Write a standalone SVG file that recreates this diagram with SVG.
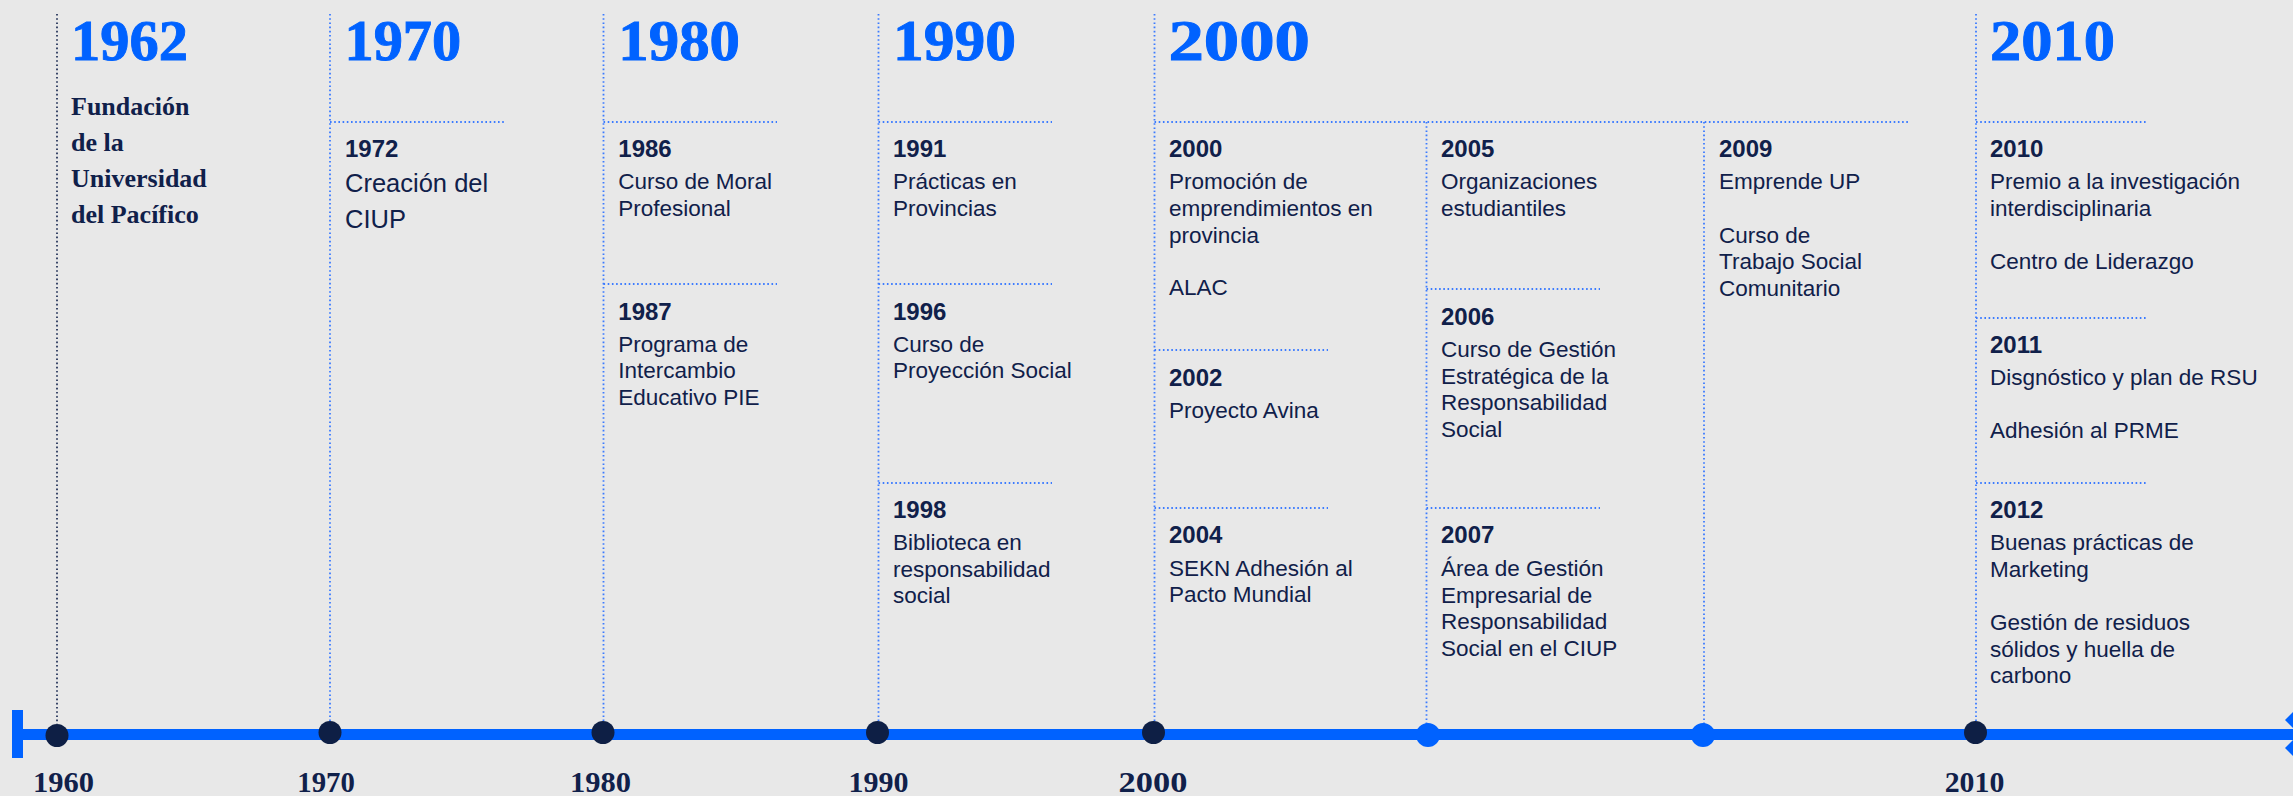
<svg xmlns="http://www.w3.org/2000/svg" width="2293" height="796" viewBox="0 0 2293 796">
<style>
.head{font-family:"Liberation Serif","Times New Roman",serif;font-weight:700;font-size:58px;fill:#0062ff;stroke:#0062ff;stroke-width:0.9}
.yr{font-family:"Liberation Sans",Arial,sans-serif;font-weight:700;font-size:24px;fill:#10204a}
.body{font-family:"Liberation Sans",Arial,sans-serif;font-size:22.5px;fill:#10204a}
.big{font-family:"Liberation Sans",Arial,sans-serif;font-size:25.5px;fill:#10204a}
.found{font-family:"Liberation Serif","Times New Roman",serif;font-weight:700;font-size:26px;fill:#10204a}
.axis{font-family:"Liberation Serif","Times New Roman",serif;font-weight:700;font-size:30px;fill:#10204a;text-anchor:middle}
.dl{stroke:#3b7bff;stroke-width:1.8;stroke-dasharray:1.6 2.6;fill:none}
.dd{stroke:#10204a;stroke-width:1.6;stroke-dasharray:1.6 2.6;fill:none}
.nd{fill:#0e1f45}
.nb{fill:#0062ff}
</style>
<rect x="0" y="0" width="2293" height="796" fill="#e8e8e8"/>

<g id="connectors">
  <line class="dd" x1="57" y1="14" x2="57" y2="724"/>
  <line class="dl" x1="330" y1="14" x2="330" y2="721"/>
  <line class="dl" x1="603.5" y1="14" x2="603.5" y2="721"/>
  <line class="dl" x1="878.5" y1="14" x2="878.5" y2="721"/>
  <line class="dl" x1="1154.5" y1="14" x2="1154.5" y2="721"/>
  <line class="dl" x1="1426.5" y1="122" x2="1426.5" y2="724"/>
  <line class="dl" x1="1704" y1="122" x2="1704" y2="724"/>
  <line class="dl" x1="1976" y1="14" x2="1976" y2="721"/>
  <line class="dl" x1="330" y1="122" x2="504" y2="122"/>
  <line class="dl" x1="603.5" y1="122" x2="777" y2="122"/>
  <line class="dl" x1="603.5" y1="284" x2="777" y2="284"/>
  <line class="dl" x1="878.5" y1="122" x2="1052" y2="122"/>
  <line class="dl" x1="878.5" y1="284" x2="1052" y2="284"/>
  <line class="dl" x1="878.5" y1="483" x2="1052" y2="483"/>
  <line class="dl" x1="1154.5" y1="122" x2="1909" y2="122"/>
  <line class="dl" x1="1154.5" y1="350" x2="1328" y2="350"/>
  <line class="dl" x1="1154.5" y1="508" x2="1328" y2="508"/>
  <line class="dl" x1="1426.5" y1="289" x2="1600" y2="289"/>
  <line class="dl" x1="1426.5" y1="508" x2="1600" y2="508"/>
  <line class="dl" x1="1976" y1="122" x2="2148" y2="122"/>
  <line class="dl" x1="1976" y1="318" x2="2148" y2="318"/>
  <line class="dl" x1="1976" y1="483" x2="2148" y2="483"/>
  <rect x="12" y="729" width="2281" height="11" fill="#0062ff"/>
  <rect x="12" y="710" width="11" height="48" fill="#0062ff"/>
  <polygon points="2285,720 2293,712 2301,720 2293,728" fill="#0062ff"/>
  <polygon points="2285,748 2293,740 2301,748 2293,756" fill="#0062ff"/>
</g>

<g id="tick-1960">
  <circle class="nd" cx="57" cy="735.5" r="11.5"/>
  <text class="axis" x="63.5" y="792" textLength="61" lengthAdjust="spacingAndGlyphs">1960</text>
</g>
<g id="tick-1970">
  <circle class="nd" cx="330" cy="732.5" r="11.5"/>
  <text class="axis" x="326" y="792" textLength="57.5" lengthAdjust="spacingAndGlyphs">1970</text>
</g>
<g id="tick-1980">
  <circle class="nd" cx="603" cy="732.5" r="11.5"/>
  <text class="axis" x="600.5" y="792" textLength="61" lengthAdjust="spacingAndGlyphs">1980</text>
</g>
<g id="tick-1990">
  <circle class="nd" cx="877.5" cy="732.5" r="11.5"/>
  <text class="axis" x="878.5" y="792" textLength="60" lengthAdjust="spacingAndGlyphs">1990</text>
</g>
<g id="tick-2000">
  <circle class="nd" cx="1153.5" cy="732.5" r="11.5"/>
  <text class="axis" x="1153" y="792" textLength="68.8" lengthAdjust="spacingAndGlyphs">2000</text>
</g>
<g id="tick-2005">
  <circle class="nb" cx="1428" cy="735" r="12"/>
</g>
<g id="tick-2009">
  <circle class="nb" cx="1703" cy="735" r="12"/>
</g>
<g id="tick-2010">
  <circle class="nd" cx="1975.5" cy="732.5" r="11.5"/>
  <text class="axis" x="1974.5" y="792" textLength="59.6" lengthAdjust="spacingAndGlyphs">2010</text>
</g>

<g id="decade-1962">
  <text class="head" x="71" y="59.5" textLength="117" lengthAdjust="spacingAndGlyphs">1962</text>
  <text class="found" x="71" y="115">Fundación</text>
  <text class="found" x="71" y="151">de la</text>
  <text class="found" x="71" y="187">Universidad</text>
  <text class="found" x="71" y="223">del Pacífico</text>
</g>

<g id="decade-1970">
  <text class="head" x="344.5" y="59.5" textLength="116.7" lengthAdjust="spacingAndGlyphs">1970</text>
</g>
<g id="event-1972">
  <text class="yr" x="345" y="157">1972</text>
  <text class="big" x="345" y="192">Creación del</text>
  <text class="big" x="345" y="228">CIUP</text>
</g>

<g id="decade-1980">
  <text class="head" x="618.3" y="59.5" textLength="121.7" lengthAdjust="spacingAndGlyphs">1980</text>
</g>
<g id="event-1986">
  <text class="yr" x="618.3" y="157">1986</text>
  <text class="body" x="618.3" y="189.3">Curso de Moral</text>
  <text class="body" x="618.3" y="216">Profesional</text>
</g>
<g id="event-1987">
  <text class="yr" x="618.3" y="320">1987</text>
  <text class="body" x="618.3" y="351.7">Programa de</text>
  <text class="body" x="618.3" y="378.3">Intercambio</text>
  <text class="body" x="618.3" y="405">Educativo PIE</text>
</g>

<g id="decade-1990">
  <text class="head" x="893" y="59.5" textLength="123" lengthAdjust="spacingAndGlyphs">1990</text>
</g>
<g id="event-1991">
  <text class="yr" x="893" y="157">1991</text>
  <text class="body" x="893" y="189.3">Prácticas en</text>
  <text class="body" x="893" y="216">Provincias</text>
</g>
<g id="event-1996">
  <text class="yr" x="893" y="320">1996</text>
  <text class="body" x="893" y="351.7">Curso de</text>
  <text class="body" x="893" y="378.3">Proyección Social</text>
</g>
<g id="event-1998">
  <text class="yr" x="893" y="517.7">1998</text>
  <text class="body" x="893" y="550">Biblioteca en</text>
  <text class="body" x="893" y="576.7">responsabilidad</text>
  <text class="body" x="893" y="603.3">social</text>
</g>

<g id="decade-2000">
  <text class="head" x="1168.4" y="59.5" textLength="141.6" lengthAdjust="spacingAndGlyphs">2000</text>
</g>
<g id="event-2000">
  <text class="yr" x="1169" y="157">2000</text>
  <text class="body" x="1169" y="189.3">Promoción de</text>
  <text class="body" x="1169" y="216">emprendimientos en</text>
  <text class="body" x="1169" y="242.7">provincia</text>
  <text class="body" x="1169" y="295">ALAC</text>
</g>
<g id="event-2002">
  <text class="yr" x="1169" y="386">2002</text>
  <text class="body" x="1169" y="418.3">Proyecto Avina</text>
</g>
<g id="event-2004">
  <text class="yr" x="1169" y="543.3">2004</text>
  <text class="body" x="1169" y="576">SEKN Adhesión al</text>
  <text class="body" x="1169" y="602.3">Pacto Mundial</text>
</g>

<g id="event-2005">
  <text class="yr" x="1441" y="157">2005</text>
  <text class="body" x="1441" y="189.3">Organizaciones</text>
  <text class="body" x="1441" y="216">estudiantiles</text>
</g>
<g id="event-2006">
  <text class="yr" x="1441" y="325">2006</text>
  <text class="body" x="1441" y="357.3">Curso de Gestión</text>
  <text class="body" x="1441" y="383.8">Estratégica de la</text>
  <text class="body" x="1441" y="410.3">Responsabilidad</text>
  <text class="body" x="1441" y="436.8">Social</text>
</g>
<g id="event-2007">
  <text class="yr" x="1441" y="543.3">2007</text>
  <text class="body" x="1441" y="576">Área de Gestión</text>
  <text class="body" x="1441" y="602.5">Empresarial de</text>
  <text class="body" x="1441" y="629">Responsabilidad</text>
  <text class="body" x="1441" y="655.5">Social en el CIUP</text>
</g>

<g id="event-2009">
  <text class="yr" x="1719" y="157">2009</text>
  <text class="body" x="1719" y="189.3">Emprende UP</text>
  <text class="body" x="1719" y="242.7">Curso de</text>
  <text class="body" x="1719" y="269.2">Trabajo Social</text>
  <text class="body" x="1719" y="295.7">Comunitario</text>
</g>

<g id="decade-2010">
  <text class="head" x="1990" y="59.5" textLength="125" lengthAdjust="spacingAndGlyphs">2010</text>
</g>
<g id="event-2010">
  <text class="yr" x="1990" y="157">2010</text>
  <text class="body" x="1990" y="189.3">Premio a la investigación</text>
  <text class="body" x="1990" y="216">interdisciplinaria</text>
  <text class="body" x="1990" y="269">Centro de Liderazgo</text>
</g>
<g id="event-2011">
  <text class="yr" x="1990" y="352.7">2011</text>
  <text class="body" x="1990" y="385">Disgnóstico y plan de RSU</text>
  <text class="body" x="1990" y="437.7">Adhesión al PRME</text>
</g>
<g id="event-2012">
  <text class="yr" x="1990" y="517.7">2012</text>
  <text class="body" x="1990" y="550">Buenas prácticas de</text>
  <text class="body" x="1990" y="576.7">Marketing</text>
  <text class="body" x="1990" y="630">Gestión de residuos</text>
  <text class="body" x="1990" y="656.7">sólidos y huella de</text>
  <text class="body" x="1990" y="683.3">carbono</text>
</g>
</svg>
